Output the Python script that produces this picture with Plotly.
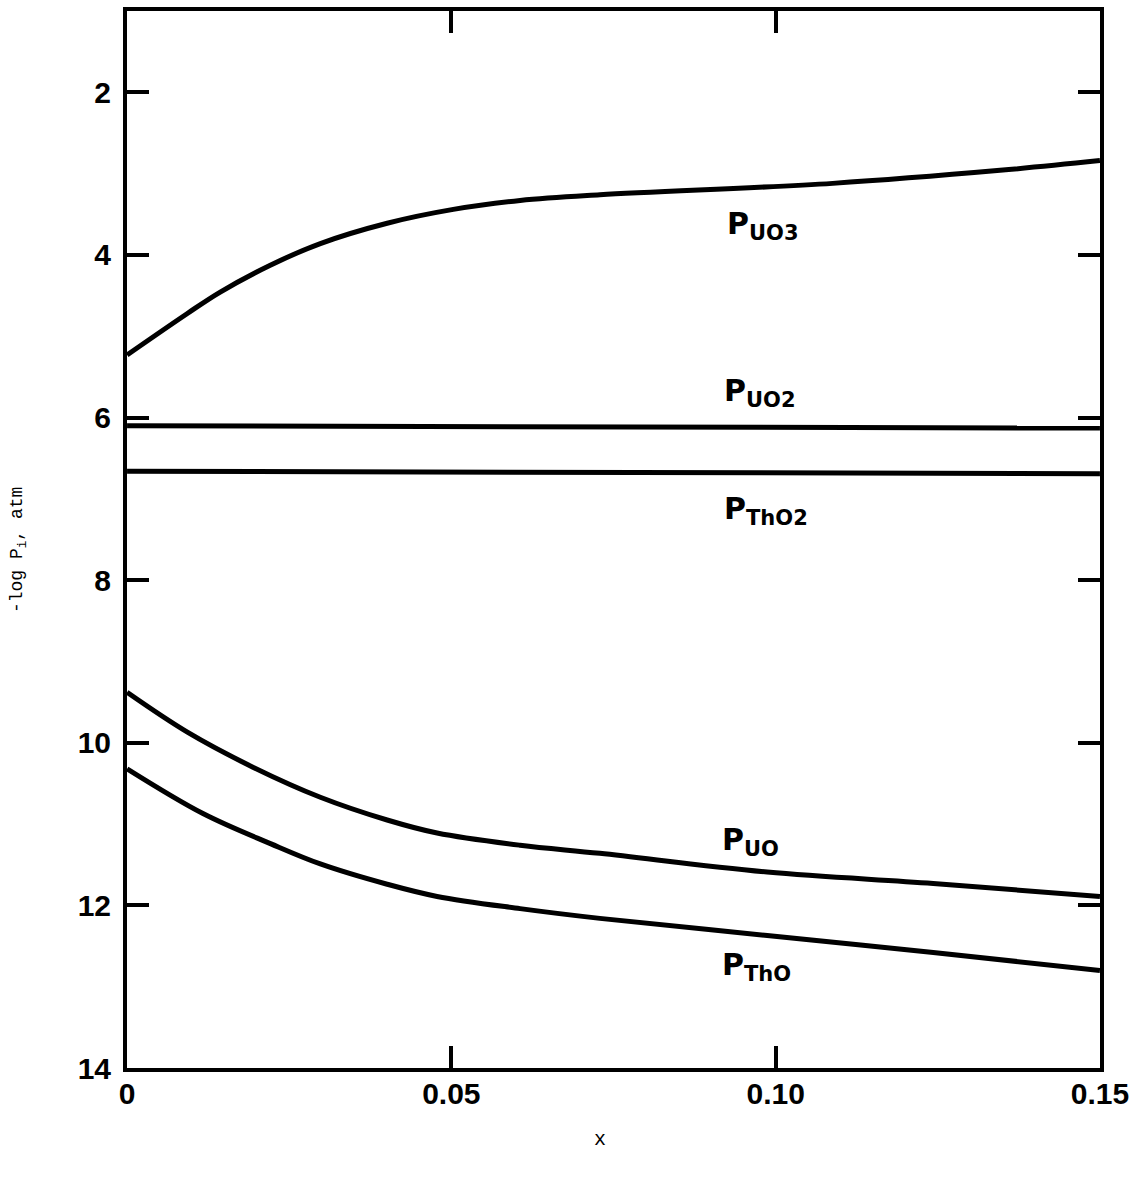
import plotly.graph_objects as go

# ---- data ----
x_uo3 = [0.0, 0.0093, 0.0143, 0.022, 0.0298, 0.0401, 0.0503, 0.0606, 0.0729, 0.1088, 0.1346, 0.15]
y_uo3 = [5.23, 4.72, 4.46, 4.13, 3.86, 3.61, 3.44, 3.33, 3.26, 3.12, 2.96, 2.84]

x_uo2 = [0.0, 0.15]
y_uo2 = [6.10, 6.13]

x_tho2 = [0.0, 0.15]
y_tho2 = [6.66, 6.69]

x_uo = [0.0, 0.0093, 0.0194, 0.0298, 0.0401, 0.0478, 0.0606, 0.0729, 0.0987, 0.1243, 0.15]
y_uo = [9.38, 9.87, 10.30, 10.67, 10.95, 11.11, 11.26, 11.36, 11.59, 11.73, 11.89]

x_tho = [0.0, 0.0117, 0.0221, 0.0298, 0.0401, 0.0478, 0.0606, 0.0729, 0.0987, 0.1243, 0.15]
y_tho = [10.32, 10.87, 11.24, 11.49, 11.74, 11.89, 12.04, 12.16, 12.37, 12.58, 12.80]

x_ticks = [0, 0.05, 0.10, 0.15]
x_ticklabels = ["0", "0.05", "0.10", "0.15"]
y_ticks = [2, 4, 6, 8, 10, 12, 14]
y_ticklabels = ["2", "4", "6", "8", "10", "12", "14"]

labels = ["P<sub>UO3</sub>", "P<sub>UO2</sub>", "P<sub>ThO2</sub>", "P<sub>UO</sub>", "P<sub>ThO</sub>"]
label_x = [0.0922, 0.0917, 0.0917, 0.0914, 0.0914]
label_y = [3.64, 5.69, 7.14, 11.22, 12.75]

fig = go.Figure()
for xs, ys in [(x_uo3, y_uo3), (x_uo2, y_uo2), (x_tho2, y_tho2), (x_uo, y_uo), (x_tho, y_tho)]:
    fig.add_trace(go.Scatter(x=xs, y=ys, mode="lines",
                             line=dict(color="black", width=5, shape="spline", smoothing=1.0),
                             showlegend=False, hoverinfo="skip"))

for t, lx, ly in zip(labels, label_x, label_y):
    fig.add_annotation(x=lx, y=ly, text=t, showarrow=False,
                       font=dict(family="DejaVu Sans", size=30, color="black", weight="bold"),
                       xanchor="left", yanchor="middle")

fig.add_annotation(xref="paper", yref="paper", x=-0.112, y=0.49, text="-log P<sub>i</sub>, atm",
                   showarrow=False, textangle=-90, xanchor="center", yanchor="middle",
                   font=dict(family="Liberation Mono", size=18, color="black"))
fig.add_annotation(xref="paper", yref="paper", x=0.486, y=-0.068, text="x",
                   showarrow=False, xanchor="center", yanchor="middle",
                   font=dict(family="Liberation Mono", size=20, color="black"))

axis_common = dict(showgrid=False, zeroline=False, showline=True, linecolor="black",
                   linewidth=4, mirror="ticks", ticks="inside", ticklen=22, tickwidth=4,
                   tickcolor="black", automargin=False,
                   tickfont=dict(family="Liberation Sans", size=30, color="black", weight="bold"))

fig.update_xaxes(range=[-0.00001, 0.15001], tickvals=x_ticks, ticktext=x_ticklabels,
                 ticklabelstandoff=-4, ticklabeloverflow="allow", **axis_common)
fig.update_yaxes(range=[14, 1], tickvals=y_ticks, ticktext=y_ticklabels,
                 ticklabelstandoff=6, ticklabeloverflow="allow", **axis_common)

fig.update_layout(width=1132, height=1178, plot_bgcolor="white", paper_bgcolor="white",
                  margin=dict(l=127, r=32, t=11, b=110))

fig.write_html("out.html", config={"displayModeBar": False},
               post_script="document.body.style.margin='0';document.body.style.overflow='hidden';")
